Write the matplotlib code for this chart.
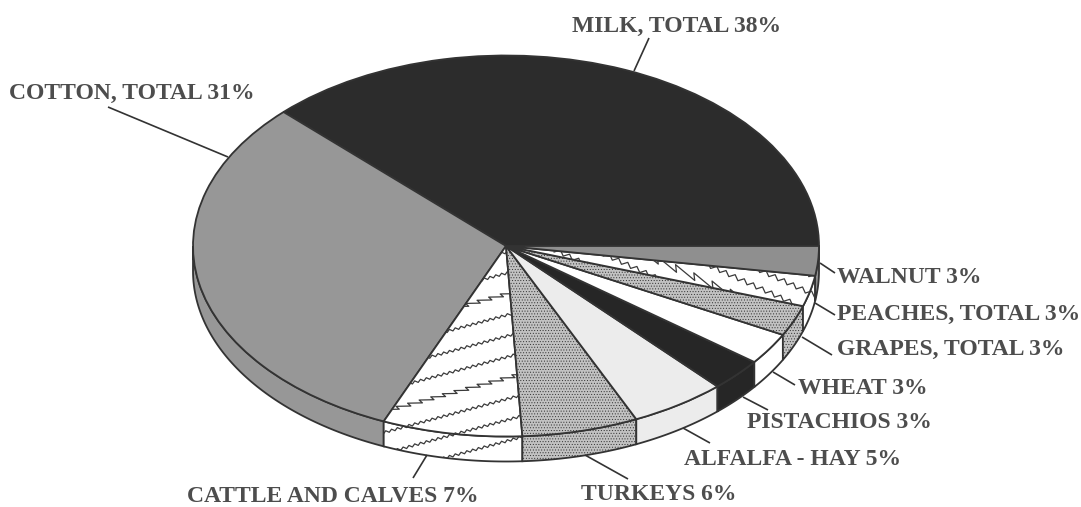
import numpy as np
import matplotlib
matplotlib.use("Agg")
import matplotlib.pyplot as plt
from matplotlib.patches import Polygon

plt.rcParams['hatch.linewidth'] = 0.4

# Data: drawn share of each slice (in degrees of the pie)
categories = ["MILK, TOTAL", "COTTON, TOTAL", "CATTLE AND CALVES", "TURKEYS",
              "ALFALFA - HAY", "PISTACHIOS", "WHEAT", "GRAPES, TOTAL",
              "PEACHES, TOTAL", "WALNUT"]
printed_pct = [38, 31, 7, 6, 5, 3, 3, 3, 3, 3]
drawn_share = [135.3, 111.7, 26, 21.6, 17.9, 10, 9.7, 9.4, 9.4, 9]

# Styling
face = ["#2c2c2c", "#979797", "#ffffff", "#c2c2c2", "#ececec",
        "#262626", "#ffffff", "#c2c2c2", "#ffffff", "#8f8f8f"]
hatches = [None, None, None, "......", None, None, None, "......", None, None]
INK = "#333333"
TXT = "#4d4d4d"

W, H = 1081, 507
CX, CY, RX, RY, DEPTH = 506, 246, 313, 190.5, 25


def P(x, y):
    """pixel position -> pie coordinates"""
    return (x - CX) / RX, (CY - y) / RY


fig = plt.figure(figsize=(W / 100, H / 100), dpi=100, facecolor="white")
ax = fig.add_axes([0, 0, 1, 1])

wedges, _ = ax.pie(drawn_share, colors=face, startangle=0, counterclock=True, radius=1,
                   wedgeprops=dict(edgecolor=INK, linewidth=1.3))
ax.set_aspect("auto")
ax.set_xlim(P(0, 0)[0], P(W, 0)[0])
ax.set_ylim(P(0, H)[1], P(0, 0)[1])
ax.axis("off")
for w, h in zip(wedges, hatches):
    w.set_zorder(3)
    if h:
        w.set_hatch(h)

# Rim (side wall) of the disc
edges = np.concatenate([[0], np.cumsum(drawn_share)])
dz = DEPTH / RY
rim = {}
for i, (a0, a1) in enumerate(zip(edges[:-1], edges[1:])):
    lo, hi = max(a0, 180), min(a1, 360)
    if hi <= lo:
        continue
    t = np.radians(np.linspace(lo, hi, 80))
    top = np.column_stack([np.cos(t), np.sin(t)])
    bot = top[::-1] - [0, dz]
    poly = Polygon(np.vstack([top, bot]), closed=True, facecolor=face[i],
                   edgecolor=INK, linewidth=1.3, hatch=hatches[i], zorder=2)
    ax.add_patch(poly)
    rim[i] = poly


def zigzag(x0, y0, x1, y1, period, amp, saw=False):
    """Decorative zigzag stroke between two pixel positions."""
    L = np.hypot(x1 - x0, y1 - y0)
    n = int(L / (period / 2))
    s = np.arange(n + 1) * (period / 2)
    off = amp * (-1.0) ** np.arange(n + 1)
    if saw:
        s = s + 0.35 * period * (-1.0) ** np.arange(n + 1)
    ux, uy = (x1 - x0) / L, (y1 - y0) / L
    return x0 + ux * s - uy * off, y0 + uy * s + ux * off


def texture(patches, lines, period, amp):
    for k, (x0, y0, x1, y1) in enumerate(lines):
        saw = (k % 4 == 2)
        xs, ys = zigzag(x0, y0, x1, y1, period * (2 if saw else 1), amp * (1.5 if saw else 1), saw=saw)
        d = np.array([P(a, b) for a, b in zip(xs, ys)])
        for p, z in patches:
            ln, = ax.plot(d[:, 0], d[:, 1], color="#3a3a3a", lw=0.9, zorder=z)
            ln.set_clip_path(p)


# cattle: strokes rising to the right
cattle = [(360, y + 30, 540, y - 19) for y in range(262, 470, 21)]
texture([(wedges[2], 4), (rim[2], 2.5)], cattle, 6, 1.2)
# peaches: strokes falling to the right
peach = [(x, 250, x + 120, 304) for x in range(555, 790, 40)]
texture([(wedges[8], 4), (rim[8], 2.5)], peach, 10, 2.2)

# Leaders and labels
leaders = [(649, 38, 634, 71), (108, 107, 228, 157), (820, 263, 835, 273),
           (815, 303, 835, 315), (802, 337, 832, 355), (773, 372, 795, 385),
           (743, 397, 768, 410), (683, 428, 710, 443), (585, 455, 628, 479),
           (427, 455, 413, 478)]
anchors = [(572, 32), (9, 99), (187, 502), (581, 500), (684, 465),
           (747, 428), (798, 394), (837, 355), (837, 320), (837, 283)]
for (x0, y0, x1, y1) in leaders:
    a, b = P(x0, y0), P(x1, y1)
    ax.plot([a[0], b[0]], [a[1], b[1]], color=INK, lw=1.2, zorder=5, solid_capstyle="butt")
for name, pct, (x, y) in zip(categories, printed_pct, anchors):
    ax.text(*P(x, y), f"{name} {pct}%", family="Liberation Serif", weight="bold",
            fontsize=17, color=TXT, ha="left", va="baseline", zorder=6)

fig.savefig("out.png", dpi=100, facecolor="white")
